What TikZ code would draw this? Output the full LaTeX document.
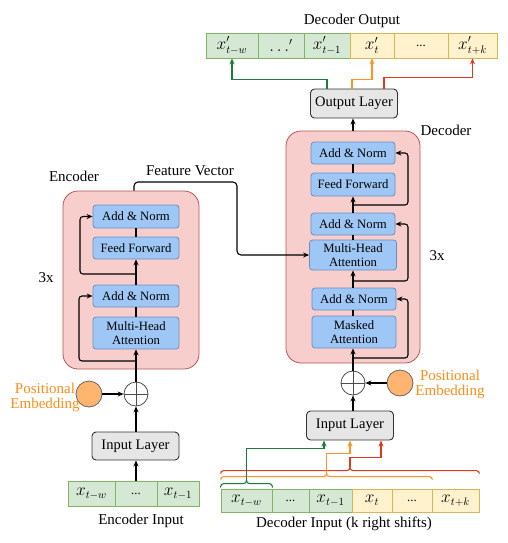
\documentclass[tikz,border=0pt]{standalone}
\usepackage{amsmath}
\usepackage{xcolor}
\usepackage{fontspec}
\setmainfont{Liberation Serif}
\usetikzlibrary{arrows.meta,calc}

\definecolor{stackfill}{HTML}{F8CECC}
\definecolor{stackline}{HTML}{B85450}
\definecolor{blkfill}{HTML}{9EC7F5}
\definecolor{blkline}{HTML}{6C8EBF}
\definecolor{layfill}{HTML}{E6E6E6}
\definecolor{gfill}{HTML}{D5E8D4}
\definecolor{gline}{HTML}{82B366}
\definecolor{yfill}{HTML}{FFF2CC}
\definecolor{yline}{HTML}{D6B656}
\definecolor{pefill}{HTML}{FFB570}
\definecolor{petext}{HTML}{FF8C1A}
\definecolor{arrgreen}{HTML}{1E7B3E}
\definecolor{arrorange}{HTML}{FF9326}
\definecolor{arrred}{HTML}{DD3A1E}

\newcommand{\blkfont}{\fontsize{12.7}{14}\selectfont}
\newcommand{\layfont}{\fontsize{14.5}{16}\selectfont}
\newcommand{\lblfont}{\fontsize{15}{16}\selectfont}
\newcommand{\cellfont}{\fontsize{16}{18}\selectfont}

\begin{document}
\begin{tikzpicture}[x=1pt,y=-1pt,
    >={Stealth[length=6pt,width=5pt]},
    every path/.style={line width=1.1pt},
    stack/.style={draw=stackline,fill=stackfill,line width=0.8pt,rounded corners=15pt},
    blk/.style={draw=blkline,fill=blkfill,line width=0.8pt,rounded corners=3pt,
        minimum width=84pt,minimum height=22pt,inner sep=1pt,align=center,font=\blkfont},
    layer/.style={draw=black!80,fill=layfill,line width=0.9pt,rounded corners=4pt,
        minimum width=87pt,minimum height=29pt,font=\layfont},
    gcell/.style={draw=gline,fill=gfill,line width=0.8pt,inner sep=0pt,font=\cellfont},
    ycell/.style={draw=yline,fill=yfill,line width=0.8pt,inner sep=0pt,font=\cellfont},
    lbl/.style={font=\lblfont,inner sep=0pt},
    posemb/.style={circle,draw=black!60,fill=pefill,line width=0.8pt,minimum size=26pt,inner sep=0pt},
    addop/.style={circle,draw=black!70,fill=white,line width=0.8pt,minimum size=24pt,inner sep=0pt,
        path picture={\draw[line width=0.8pt,black!70] (path picture bounding box.north) -- (path picture bounding box.south)
            (path picture bounding box.west) -- (path picture bounding box.east);}},
    petxt/.style={font=\lblfont,text=petext,align=center,inner sep=0pt},
    inbrace/.style={rounded corners=3pt}]

    \useasboundingbox (0,0) rectangle (508,543);

    % encoder
    \node[lbl] (enclbl) at (74,176) {Encoder};
    \node[stack,minimum width=136pt,minimum height=178pt] (encbox) at (131,280) {};
    \node[blk,minimum width=86pt,minimum height=23pt] (ean1) at (136,216.5) {Add \& Norm};
    \node[blk,minimum width=86pt] (eff) at (136,248) {Feed Forward};
    \node[blk,minimum width=86pt] (ean2) at (136,296) {Add \& Norm};
    \node[blk,minimum width=86pt,minimum height=32pt] (emha) at (136,333) {Multi-Head\\Attention};
    \node[lbl] (erep) at (46,278) {3x};
    \node[addop] (eplus) at (136,394) {};
    \node[posemb] (epe) at (89,394) {};
    \node[petxt] (epelbl) at (45,397) {Positional\\[-1pt]Embedding};
    \node[layer,minimum height=28pt] (elayer) at (135.5,446) {Input Layer};
    \node[gcell,minimum width=47pt,minimum height=25pt] (ecell0) at (91.5,493.5) {$x_{t-w}$};
    \node[gcell,minimum width=42pt,minimum height=25pt,font=\blkfont] (ecell1) at (136,493.5) {...};
    \node[gcell,minimum width=42pt,minimum height=25pt] (ecell2) at (178,493.5) {$x_{t-1}$};
    \node[lbl] (encin) at (141,521) {Encoder Input};

    \draw[->] (ecell1.north) -- (elayer.south -| ecell1.north);
    \draw[->] (elayer.north -| eplus) -- (eplus.south);
    \draw[->] (epe.east) -- (eplus.west);
    \draw[->] (eplus.north) -- (emha.south);
    \draw (emha.north) -- (ean2.south);
    \draw[->] (ean2.north) -- (eff.south);
    \draw (eff.north) -- (ean1.south);
    \coordinate (eres1) at (136,274);
    \coordinate (eres2) at (136,361);
    \draw[->,rounded corners=3pt] (eres1) -- ++(-56,0) |- (ean1.west);
    \draw[->,rounded corners=3pt] (eres2) -- ++(-57,0) |- (ean2.west);

    % decoder
    \node[lbl] (declbl) at (446,130) {Decoder};
    \node[stack,minimum width=134pt,minimum height=232pt] (decbox) at (353,247) {};
    \node[blk] (dan1) at (353,153) {Add \& Norm};
    \node[blk,minimum height=23pt] (dff) at (353,184.5) {Feed Forward};
    \node[blk] (dan2) at (353,224) {Add \& Norm};
    \node[blk,minimum width=87pt,minimum height=30pt] (dmha) at (353,255) {Multi-Head\\Attention};
    \node[blk] (dan3) at (354,299) {Add \& Norm};
    \node[blk,minimum height=32pt] (dma) at (354,332) {Masked\\Attention};
    \node[lbl] (drep) at (437,256) {3x};
    \node[addop] (dplus) at (353,383) {};
    \node[posemb] (dpe) at (400,383) {};
    \node[petxt] (dpelbl) at (450,384) {Positional\\[-1pt]Embedding};
    \node[layer] (dlayer) at (350,425.5) {Input Layer};
    \node[layer] (outlayer) at (354,103.5) {Output Layer};

    \draw[->] (dlayer.north -| dplus) -- (dplus.south);
    \draw[->] (dpe.west) -- (dplus.east);
    \draw[->] (dplus.north) -- (dma.south -| dplus);
    \draw (dma.north -| dplus) -- (dan3.south -| dplus);
    \draw[->] (dan3.north -| dplus) -- (dmha.south -| dplus);
    \draw (dmha.north -| dplus) -- (dan2.south -| dplus);
    \draw[->] (dan2.north -| dplus) -- (dff.south -| dplus);
    \draw (dff.north -| dplus) -- (dan1.south -| dplus);
    \draw[->] (decbox.north) -- (outlayer.south -| decbox.north);
    \coordinate (dres1) at (353,205);
    \coordinate (dres2) at (353,281);
    \coordinate (dres3) at (353,358);
    \draw[->,rounded corners=3pt] (dres1) -- ++(55,0) |- (dan1.east);
    \draw[->,rounded corners=3pt] (dres2) -- ++(55,0) |- (dan2.east);
    \draw[->,rounded corners=3pt] (dres3) -- ++(55,0) |- (dan3.east);

    % feature vector
    \node[lbl] (fvlbl) at (190,171) {Feature Vector};
    \coordinate (fvstart) at ([xshift=3pt]encbox.north);
    \draw[->,rounded corners=4pt] (fvstart) |- (237,182) |- (dmha.west);

    % decoder output
    \node[lbl] (outlbl) at (352,21) {Decoder Output};
    \node[gcell,minimum width=52pt,minimum height=25pt] (dout0) at (232,45.5) {$x'_{t-w}$};
    \node[gcell,minimum width=46pt,minimum height=25pt] (dout1) at (281,45.5) {$\dots'$};
    \node[gcell,minimum width=46pt,minimum height=25pt] (dout2) at (327,45.5) {$x'_{t-1}$};
    \node[ycell,minimum width=44pt,minimum height=25pt] (dout3) at (372,45.5) {$x'_{t}$};
    \node[ycell,minimum width=54pt,minimum height=25pt,font=\blkfont] (dout4) at (421,45.5) {...};
    \node[ycell,minimum width=49pt,minimum height=25pt] (dout5) at (472.5,45.5) {$x'_{t+k}$};

    \draw[->,arrgreen] ([xshift=-27pt]outlayer.north) -- ++(0,-9) -| (dout0.south);
    \draw[->,arrorange] ([xshift=-2pt]outlayer.north) -- ++(0,-9) -| (dout3.south);
    \draw[->,arrred] ([xshift=30pt]outlayer.north) -- ++(0,-11) -| (dout5.south);

    % decoder input
    \node[gcell,minimum width=51pt,minimum height=23pt] (dcell0) at (246.5,500.5) {$x_{t-w}$};
    \node[gcell,minimum width=37pt,minimum height=23pt,font=\blkfont] (dcell1) at (290.5,500.5) {...};
    \node[gcell,minimum width=43pt,minimum height=23pt] (dcell2) at (330.5,500.5) {$x_{t-1}$};
    \node[ycell,minimum width=40pt,minimum height=23pt] (dcell3) at (372,500.5) {$x_{t}$};
    \node[ycell,minimum width=40pt,minimum height=23pt,font=\blkfont] (dcell4) at (412,500.5) {...};
    \node[ycell,minimum width=47pt,minimum height=23pt] (dcell5) at (455.5,500.5) {$x_{t+k}$};
    \node[lbl] (decin) at (344,524) {Decoder Input (k right shifts)};

    % braces over the input window
    \coordinate (gmid) at ([yshift=5pt]dcell0.north);
    \coordinate (gtip) at ([yshift=9pt]dcell0.north);
    \coordinate (omid) at ($(dcell0.north west)!0.5!(dcell4.north east)+(0,-12)$);
    \coordinate (otip) at ($(dcell0.north west)!0.5!(dcell4.north east)+(0,-16)$);
    \coordinate (rmid) at ($(dcell0.north west)!0.5!(dcell5.north east)+(0,-18)$);
    \coordinate (rtip) at ($(dcell0.north west)!0.5!(dcell5.north east)+(0,-22)$);
    \draw[arrgreen,inbrace] ([yshift=1pt]dcell0.north west) |- (gmid) -- (gtip);
    \draw[arrgreen,inbrace] (gtip) -- (gmid) -| ([yshift=1pt]dcell0.north east);
    \draw[arrorange,inbrace] ([yshift=9pt]dcell0.north west) |- (omid) -- (otip);
    \draw[arrorange,inbrace] (otip) -- (omid) -| ([yshift=9pt]dcell4.north east);
    \draw[arrred,inbrace] ([yshift=15pt]dcell0.north west) |- (rmid) -- (rtip);
    \draw[arrred,inbrace] (rtip) -- (rmid) -| ([yshift=15pt]dcell5.north east);

    \draw[->,arrgreen] (gtip) -- ++(0,-31) -| ([xshift=-26pt]dlayer.south);
    \draw[->,arrorange] (otip) -- ++(0,-19) -| (dlayer.south);
    \draw[->,arrred] (rtip) -- ++(0,-9) -| ([xshift=31pt]dlayer.south);
\end{tikzpicture}
\end{document}
